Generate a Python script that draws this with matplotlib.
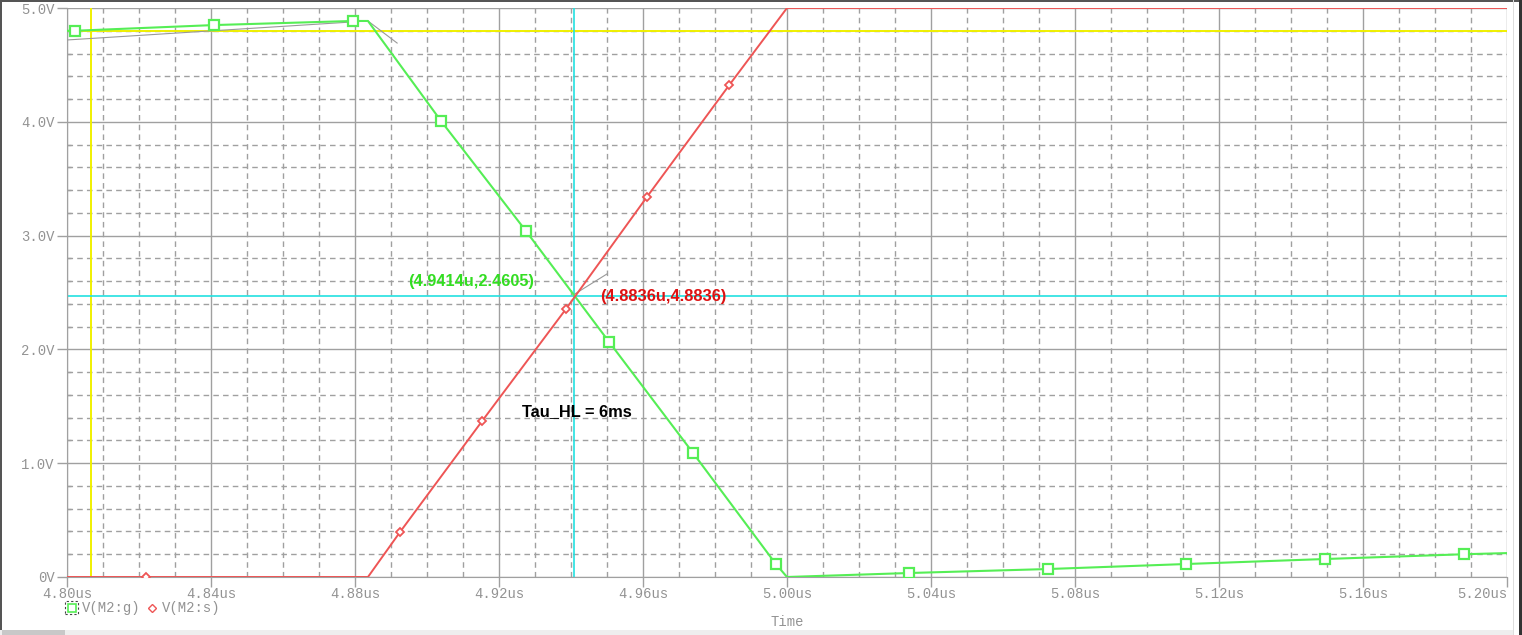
import matplotlib
matplotlib.use("Agg")
import matplotlib.pyplot as plt
from matplotlib.lines import Line2D
from matplotlib.patches import Rectangle
import numpy as np

# ---- data (time in us, voltage in V) ----
green_t = [4.800, 4.8022, 4.8408, 4.8794, 4.8836, 4.9039, 4.9275, 4.9506, 4.9739,
           4.9969, 5.000, 5.0339, 5.0725, 5.1108, 5.1494, 5.188, 5.200]
green_v = [4.80, 4.80, 4.85, 4.886, 4.886, 4.007, 3.04, 2.065, 1.09,
           0.114, 0.0, 0.035, 0.07, 0.114, 0.158, 0.20, 0.21]
green_marks = [1, 2, 3, 5, 6, 7, 8, 9, 11, 12, 13, 14, 15]

red_t = [4.800, 4.8219, 4.8836, 4.8925, 4.9153, 4.9386, 4.9611, 4.9839, 5.000, 5.200]
red_v = [0.0, 0.0, 0.0, 0.395, 1.37, 2.355, 3.34, 4.32, 5.0, 5.0]
red_marks = [1, 3, 4, 5, 6, 7]

tangent1_t = [4.800, 4.8836, 4.8917]
tangent1_v = [4.719, 4.886, 4.692]
tangent2_t = [4.9406, 4.950]
tangent2_v = [2.478, 2.663]

cursor1_t, cursor1_v = 4.8067, 4.80
cursor2_t, cursor2_v = 4.9408, 2.469

x_ticks = [4.80, 4.84, 4.88, 4.92, 4.96, 5.00, 5.04, 5.08, 5.12, 5.16, 5.20]
x_labels = ["4.80us", "4.84us", "4.88us", "4.92us", "4.96us", "5.00us",
            "5.04us", "5.08us", "5.12us", "5.16us", "5.20us"]
y_ticks = [0, 1, 2, 3, 4, 5]
y_labels = ["0V", "1.0V", "2.0V", "3.0V", "4.0V", "5.0V"]

legend_labels = ["V(M2:g)", "V(M2:s)"]
ann_green = "(4.9414u,2.4605)"
ann_red = "(4.8836u,4.8836)"
ann_tau = "Tau_HL = 6ms"

W, H = 1522, 635
fig = plt.figure(figsize=(W / 100, H / 100), dpi=100)
fig.patch.set_facecolor("white")

def fx(px):
    return px / W

def fy(py):
    return 1 - py / H

ax = fig.add_axes([fx(67), fy(577), fx(1507) - fx(67), fy(8) - fy(577)])
ax.set_xlim(4.80, 5.20)
ax.set_ylim(0, 5)
ax.set_facecolor("white")

gcol = "#a0a0a0"
tcol = "#939393"
# grid
for t in np.arange(4.80, 5.2001, 0.01):
    major = abs((t - 4.80) / 0.04 - round((t - 4.80) / 0.04)) < 1e-6
    if major:
        ax.axvline(t, color=gcol, lw=1.0, zorder=1)
    else:
        ax.axvline(t, color=gcol, lw=1.0, ls=(0, (4, 3)), zorder=1)
for v in np.arange(0, 5.001, 0.2):
    major = abs(v - round(v)) < 1e-6
    if major:
        ax.axhline(v, color=gcol, lw=1.0, zorder=1)
    else:
        ax.axhline(v, color=gcol, lw=1.0, ls=(0, (4, 3)), zorder=1)

for s in ax.spines.values():
    s.set_visible(False)
ax.spines["left"].set_visible(True)
ax.spines["left"].set_color(gcol)
ax.spines["bottom"].set_visible(True)
ax.spines["bottom"].set_color(gcol)

ax.set_xticks(x_ticks)
ax.set_xticklabels(x_labels)
ax.set_yticks(y_ticks)
ax.set_yticklabels(y_labels)
ax.set_yticks(np.arange(0, 5.001, 0.2), minor=True)
ax.tick_params(axis="both", which="major", colors=gcol, labelcolor=tcol,
               length=7, width=1, direction="out", labelsize=10)
ax.tick_params(axis="y", which="minor", colors=gcol, length=3, width=1, direction="in")
for lab in ax.get_xticklabels() + ax.get_yticklabels():
    lab.set_family("Liberation Mono")
ax.get_xticklabels()[-1].set_horizontalalignment("right")
ax.tick_params(axis="x", pad=0.5)
ax.tick_params(axis="y", pad=2)

# cursors
ax.axvline(cursor1_t, color="#f0f000", lw=1.4, zorder=2)
ax.axhline(cursor1_v, color="#f0f000", lw=1.4, zorder=2)
ax.axvline(cursor2_t, color="#22e0e0", lw=1.2, zorder=2)
ax.axhline(cursor2_v, color="#22e0e0", lw=1.2, zorder=2)

# tangent lines
ax.plot(tangent1_t, tangent1_v, color="#999999", lw=0.8, zorder=3)
ax.plot(tangent2_t, tangent2_v, color="#999999", lw=0.8, zorder=3)

green = "#55ee55"
red = "#ee5555"
ax.plot(green_t, green_v, color=green, lw=1.5, zorder=4,
        marker="s", markevery=green_marks, markersize=6.5,
        markerfacecolor="white", markeredgecolor=green, markeredgewidth=1.6)
ax.plot(red_t, red_v, color=red, lw=1.4, zorder=5,
        marker="D", markevery=red_marks, markersize=4.5,
        markerfacecolor="white", markeredgecolor=red, markeredgewidth=1.3)

# annotations
ax.text(4.8947, 2.595, ann_green, color="#33dd22", fontsize=11.8, fontweight="bold",
        family="Liberation Sans", ha="left", va="center", zorder=6)
ax.text(4.9481, 2.465, ann_red, color="#dd1111", fontsize=11.8, fontweight="bold",
        family="Liberation Sans", ha="left", va="center", zorder=6)
ax.text(4.9264, 1.455, ann_tau, color="black", fontsize=11.8, fontweight="bold",
        family="Liberation Sans", ha="left", va="center", zorder=6)

# legend (figure coords)
fig.add_artist(Rectangle((fx(65), fy(614)), fx(78) - fx(65), fy(601) - fy(614),
                         fill=False, ec="#444444", lw=0.8, ls=(0, (2, 2))))
fig.add_artist(Line2D([fx(71.5)], [fy(607.5)], marker="s", markersize=5.5,
                      markerfacecolor="white", markeredgecolor=green, markeredgewidth=1.2))
fig.text(fx(82), fy(608), legend_labels[0], color=tcol, fontsize=10,
         family="Liberation Mono", ha="left", va="center")
fig.add_artist(Line2D([fx(151.5)], [fy(607.5)], marker="D", markersize=4.5,
                      markerfacecolor="white", markeredgecolor=red, markeredgewidth=1.0))
fig.text(fx(162), fy(608), legend_labels[1], color=tcol, fontsize=10,
         family="Liberation Mono", ha="left", va="center")
fig.text(fx(787), fy(622), "Time", color=tcol, fontsize=10,
         family="Liberation Mono", ha="center", va="center")

# window borders
fig.add_artist(Rectangle((0, fy(2)), 1, fy(0) - fy(2), color="#555555", lw=0))
fig.add_artist(Rectangle((0, 0), fx(2), 1, color="#555555", lw=0))
fig.add_artist(Rectangle((fx(1513), 0), fx(1), 1, color="#dddddd", lw=0))
fig.add_artist(Rectangle((fx(1519), 0), fx(3), 1, color="#333333", lw=0))
fig.add_artist(Rectangle((0, 0), fx(1513), fy(630), color="#eeeeee", lw=0))
fig.add_artist(Rectangle((fx(2), 0), fx(63), fy(630), color="#c8c8c8", lw=0))

fig.savefig("out.png", dpi=100, facecolor="white")
